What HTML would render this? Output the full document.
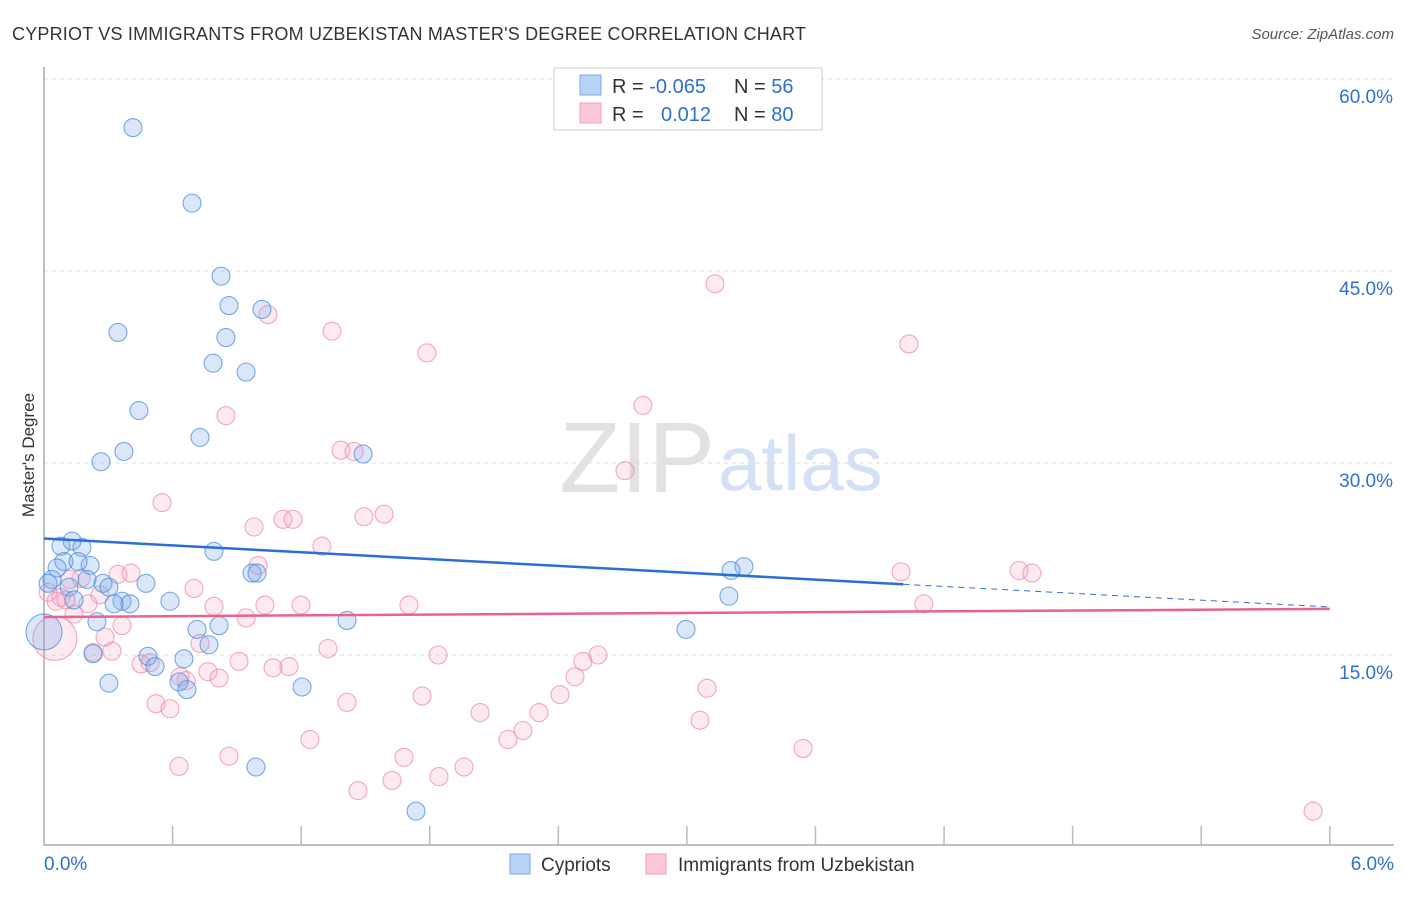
<!DOCTYPE html>
<html><head><meta charset="utf-8"><style>
body{margin:0;background:#fff;font-family:"Liberation Sans",sans-serif;}
svg text{font-family:"Liberation Sans",sans-serif;}
</style></head><body>
<svg id="chart" width="1406" height="892">
<text x="12" y="40" font-size="18" fill="#333" textLength="794">CYPRIOT VS IMMIGRANTS FROM UZBEKISTAN MASTER'S DEGREE CORRELATION CHART</text>
<text x="1394" y="39" font-size="15" fill="#555" font-style="italic" text-anchor="end">Source: ZipAtlas.com</text>
<text x="34" y="455" font-size="17" fill="#333" transform="rotate(-90 34 455)" text-anchor="middle">Master's Degree</text>
<text x="715" y="492" font-size="100" fill="#e2e2e2" text-anchor="end" font-family="Liberation Serif">ZIP</text>
<text x="718" y="490" font-size="78" fill="#d4e1f4">atlas</text>
<g id="grid"></g><g id="pts"></g><g id="lines"></g>
<g>
<rect x="554" y="68" width="268" height="62" fill="#fff" stroke="#ccc"/>
<rect x="580" y="75" width="21" height="20" fill="#b8d3f5" stroke="#7aa8e8"/>
<rect x="580" y="103" width="21" height="20" fill="#fbc8d8" stroke="#f0a0b8"/>
<text x="612" y="93" font-size="20" fill="#333">R = <tspan fill="#2f6fd0">-0.065</tspan></text>
<text x="734" y="93" font-size="20" fill="#333">N = <tspan fill="#2f6fd0">56</tspan></text>
<text x="612" y="121" font-size="20" fill="#333">R = <tspan fill="#2f6fd0" x="661">0.012</tspan></text>
<text x="734" y="121" font-size="20" fill="#333">N = <tspan fill="#2f6fd0">80</tspan></text>
</g>
<g>
<rect x="510" y="854" width="20" height="20" fill="#b8d3f5" stroke="#7aa8e8"/>
<text x="541" y="871" font-size="19" fill="#333">Cypriots</text>
<rect x="646" y="854" width="20" height="20" fill="#fbc8d8" stroke="#f0a0b8"/>
<text x="678" y="871" font-size="19" fill="#333">Immigrants from Uzbekistan</text>
</g>
</svg>
<script>
const xTicks=[0,0.6,1.2,1.8,2.4,3.0,3.6,4.2,4.8,5.4,6.0];
const yTicks=[15,30,45,60];
const yTickLabels=["15.0%","30.0%","45.0%","60.0%"];
const blueX=[0.415,0.691,0.826,0.863,1.017,0.345,0.849,0.789,0.943,0.443,0.728,0.373,1.489,0.266,0.131,0.079,0.177,0.793,0.093,0.215,0.159,0.061,0.037,0.019,0.201,0.275,0.476,0.303,0.117,0.971,0.994,3.266,3.206,0.364,0.401,0.327,0.140,0.588,3.196,0.247,1.414,0.714,0.817,0.770,2.996,0.0,0.485,0.229,0.653,0.518,0.630,0.667,0.303,1.204,0.989,1.736];
const blueY=[56.2,50.3,44.6,42.3,42.0,40.2,39.8,37.8,37.1,34.1,32.0,30.9,30.7,30.1,23.9,23.5,23.4,23.1,22.3,22.0,22.3,21.8,20.9,20.6,20.9,20.6,20.6,20.3,20.3,21.4,21.4,21.9,21.6,19.2,19.0,19.0,19.3,19.2,19.6,17.6,17.7,17.0,17.3,15.8,17.0,16.8,14.9,15.1,14.7,14.1,12.9,12.3,12.8,12.5,6.25,2.8];
const pinkX=[3.131,1.045,1.344,1.787,4.036,2.795,0.849,1.386,1.447,2.711,0.551,1.587,1.493,0.980,1.115,1.162,1.297,0.999,4.550,4.610,3.999,0.406,0.345,0.173,0.121,0.700,0.261,0.079,0.056,0.205,0.140,1.031,0.793,1.199,1.703,4.106,0.364,0.943,0.285,0.728,1.325,0.051,0.317,0.229,1.839,2.585,2.515,0.453,0.495,0.910,1.069,1.143,0.765,0.635,0.663,0.817,2.478,3.094,1.764,1.414,2.408,0.523,0.588,2.035,2.310,3.061,2.235,2.165,1.241,3.542,0.863,1.680,0.630,1.960,1.843,1.624,1.465,5.922,0.019,0.103];
const pinkY=[44.0,41.6,40.3,38.6,39.3,34.5,33.7,31.0,30.9,29.4,26.9,26.0,25.8,25.0,25.6,25.6,23.5,22.0,21.6,21.4,21.5,21.4,21.3,21.0,20.9,20.2,19.7,19.5,19.2,19.0,18.2,18.9,18.8,18.9,18.9,19.0,17.3,17.9,16.4,15.9,15.5,16.3,15.3,15.2,15.0,15.0,14.5,14.3,14.4,14.5,14.0,14.1,13.7,13.3,13.0,13.2,13.3,12.4,11.8,11.3,11.9,11.2,10.8,10.5,10.5,9.9,9.1,8.4,8.4,7.7,7.1,7.0,6.3,6.25,5.5,5.2,4.4,2.8,19.9,19.3];
const blueTrend=[24.1,18.75];
const pinkTrend=[17.97,18.6];
const bigBlue=[45];const bigPink=[41];
const X=v=>44+v*214.3, Y=v=>847-v*12.8;
const NS="http://www.w3.org/2000/svg";
function mk(t,a,p){const e=document.createElementNS(NS,t);for(const k in a)e.setAttribute(k,a[k]);p.appendChild(e);return e;}
const g=document.getElementById('grid');
yTicks.forEach((t,i)=>{
 const l=mk('line',{x1:44,x2:1394,y1:Y(t),y2:Y(t),stroke:'#ddd','stroke-dasharray':'4,4'},g);
 
 
 const tx=mk('text',{x:1393,y:Y(t)+24,'font-size':19,fill:'#2f6fd0','text-anchor':'end'},g);
 tx.textContent=yTickLabels[i];
 
 
});
const ax=mk('path',{d:`M44,67 V845 H1394`,stroke:'#aaa',fill:'none','stroke-width':1.5},g);


xTicks.forEach(t=>{const l=mk('line',{x1:X(t),x2:X(t),y1:826,y2:845,stroke:'#bbb','stroke-width':1.5},g);
 
 });
[[0,'0.0%','start',44],[6,'6.0%','end',1394]].forEach(a=>{const t=mk('text',{x:a[3],y:870,'font-size':19,fill:'#2f6fd0','text-anchor':a[2]},g);t.textContent=a[1];
 
 });
const p=document.getElementById('pts');
pinkX.forEach((x,i)=>{const c=mk('circle',{cx:X(x),cy:Y(pinkY[i]),r:bigPink.includes(i)?22:9,fill:'rgba(244,160,190,0.22)',stroke:'rgba(236,140,170,0.75)','stroke-width':1.1},p);
 
 });
blueX.forEach((x,i)=>{const c=mk('circle',{cx:X(x),cy:Y(blueY[i]),r:bigBlue.includes(i)?18:9,fill:'rgba(120,170,235,0.28)',stroke:'rgba(80,140,220,0.75)','stroke-width':1.1},p);
 
 });
const L=document.getElementById('lines');
const bAt=x=>blueTrend[0]+(blueTrend[1]-blueTrend[0])*x/6;
const b1=mk('line',{x1:X(0),y1:Y(bAt(0)),x2:X(4.01),y2:Y(bAt(4.01)),stroke:'#2a6fd6','stroke-width':2.5},L);


const b2=mk('line',{x1:X(4.01),y1:Y(bAt(4.01)),x2:X(6),y2:Y(bAt(6)),stroke:'#2a6fd6','stroke-width':1,'stroke-dasharray':'6,5'},L);


const pl=mk('line',{x1:X(0),y1:Y(pinkTrend[0]),x2:X(6),y2:Y(pinkTrend[1]),stroke:'#e8648e','stroke-width':2.5},L);


</script>
</body></html>
